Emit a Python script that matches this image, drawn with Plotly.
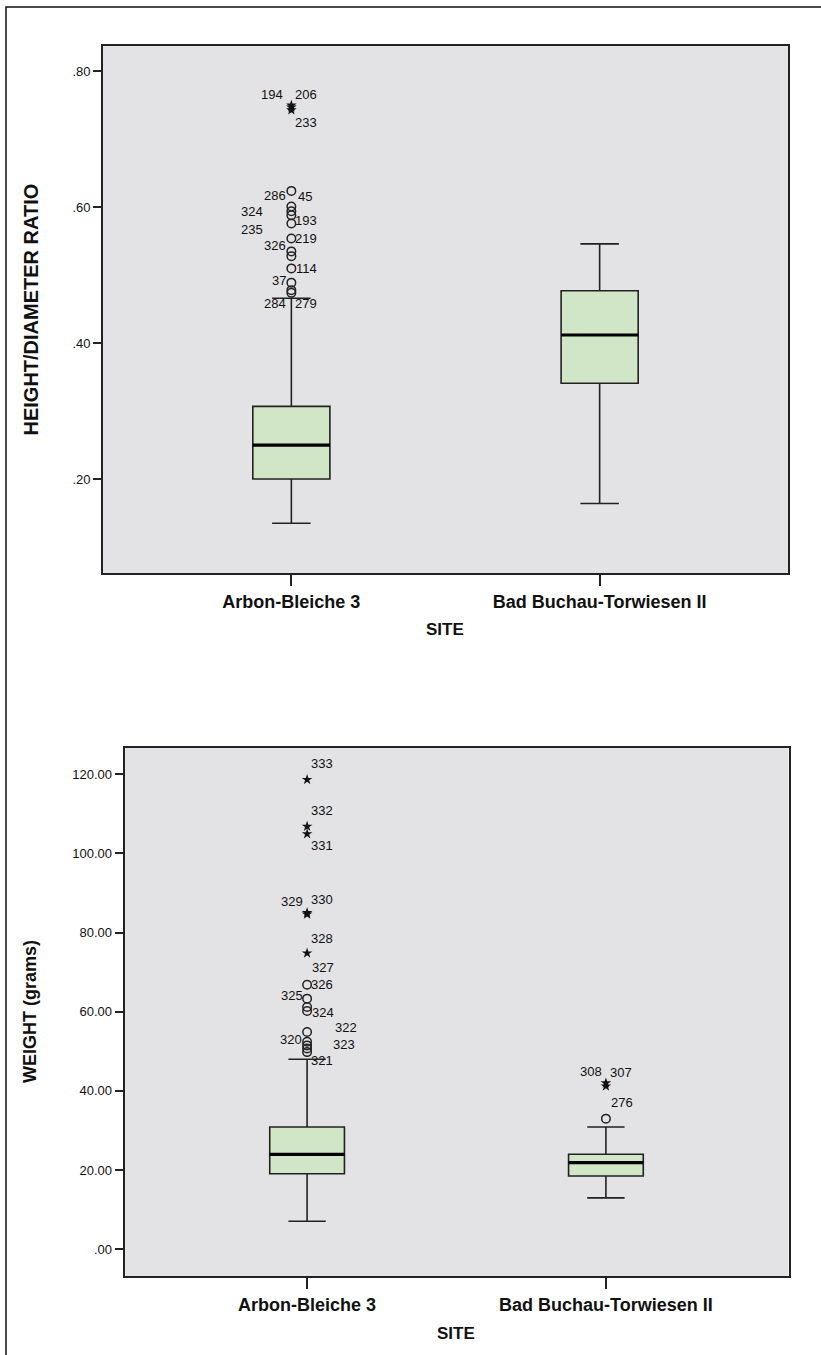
import plotly.graph_objects as go

# ---------------------------------------------------------------- data
sites = ["Arbon-Bleiche 3", "Bad Buchau-Torwiesen II"]

# Height/diameter ratio: box summaries per site
hd_q1 = [0.200, 0.341]
hd_median = [0.250, 0.412]
hd_q3 = [0.307, 0.477]
hd_whisker_low = [0.135, 0.164]
hd_whisker_high = [0.466, 0.546]
hd_outliers = [[0.624, 0.601, 0.594, 0.588, 0.576, 0.554, 0.535, 0.528,
                0.510, 0.489, 0.478, 0.474], []]
hd_extremes = [[0.750, 0.747, 0.743], []]
# case labels: (site index, case id, value)
hd_case_labels = [
    (0, "194", 0.750), (0, "206", 0.750), (0, "233", 0.743),
    (0, "286", 0.624), (0, "45", 0.624), (0, "324", 0.594),
    (0, "193", 0.576), (0, "235", 0.576), (0, "219", 0.554),
    (0, "326", 0.535), (0, "114", 0.510), (0, "37", 0.489),
    (0, "284", 0.474), (0, "279", 0.474),
]

# Weight (grams): box summaries per site
wt_q1 = [19.1, 18.5]
wt_median = [24.0, 21.9]
wt_q3 = [30.9, 24.0]
wt_whisker_low = [7.1, 13.0]
wt_whisker_high = [48.0, 30.9]
wt_outliers = [[66.8, 63.3, 61.2, 60.2, 54.9, 52.4, 51.5, 50.7, 49.8], [33.0]]
wt_extremes = [[118.6, 106.8, 104.9, 85.0, 84.6, 74.8], [42.0, 41.2]]
wt_case_labels = [
    (0, "333", 118.6), (0, "332", 106.8), (0, "331", 104.9),
    (0, "329", 84.6), (0, "330", 84.6), (0, "328", 74.8),
    (0, "327", 66.8), (0, "326", 66.8), (0, "325", 63.3),
    (0, "324", 60.2), (0, "322", 54.9), (0, "320", 52.4),
    (0, "323", 51.5), (0, "321", 49.8),
    (1, "308", 42.0), (1, "307", 42.0), (1, "276", 33.0),
]

hd_ticks = [0.2, 0.4, 0.6, 0.8]
hd_ticktext = [".20", ".40", ".60", ".80"]
wt_ticks = [0, 20, 40, 60, 80, 100, 120]
wt_ticktext = [".00", "20.00", "40.00", "60.00", "80.00", "100.00", "120.00"]

# ---------------------------------------------------------------- styling
# label offsets in pixels (right, up), same order as the case labels
hd_label_shift = [(-19, 11), (15, 11), (15, -12), (-16, -5), (14, -6),
                  (-39, 0), (15, 3), (-39, -6), (15, 0), (-16, 6),
                  (15, 0), (-12, 2), (-16, -11), (15, -11)]
wt_label_shift = [(15, 16), (15, 16), (15, -12), (-15, 13), (15, 15),
                  (15, 15), (16, 17), (15, 0), (-15, 3), (16, -2),
                  (39, 4), (-16, 2), (37, 1), (15, -8),
                  (-15, 12), (15, 11), (16, 16)]

W, H = 821, 1355
FONT = "Liberation Sans, Arial, sans-serif"
INK = "#222222"
BOX_FILL = "#d0e6c6"
PLOT_BG = "#e3e3e5"
BOX_W = 0.25


def px_x(p):
    return p / W


def px_y(p):
    return 1 - p / H


fig = go.Figure()


def add_panel(xa, ya, q1, med, q3, lo, hi, outl, extr, labels, shifts):
    xs = list(range(len(sites)))
    fig.add_trace(go.Box(
        x=xs, q1=q1, median=med, q3=q3, lowerfence=lo, upperfence=hi,
        width=BOX_W, whiskerwidth=0.5, fillcolor=BOX_FILL,
        line=dict(color=INK, width=1.6), boxpoints=False,
        hoverinfo="skip", showlegend=False, xaxis=xa, yaxis=ya,
    ))
    # heavier median bars
    for i, m in enumerate(med):
        fig.add_trace(go.Scatter(
            x=[i - BOX_W / 2, i + BOX_W / 2], y=[m, m], mode="lines",
            line=dict(color="#000000", width=3.2), hoverinfo="skip",
            showlegend=False, xaxis=xa, yaxis=ya,
        ))
    for i, vals in enumerate(outl):
        if vals:
            fig.add_trace(go.Scatter(
                x=[i] * len(vals), y=vals, mode="markers",
                marker=dict(symbol="circle-open", size=8.5,
                            line=dict(color=INK, width=1.5), color=INK),
                hoverinfo="skip", showlegend=False, xaxis=xa, yaxis=ya,
            ))
    for i, vals in enumerate(extr):
        if vals:
            fig.add_trace(go.Scatter(
                x=[i] * len(vals), y=vals, mode="markers",
                marker=dict(symbol="star", size=8, color="#111111",
                            line=dict(width=0)),
                hoverinfo="skip", showlegend=False, xaxis=xa, yaxis=ya,
            ))
    for (i, txt, v), (dx, dy) in zip(labels, shifts):
        fig.add_annotation(
            x=i, y=v, xref=xa, yref=ya, text=txt, showarrow=False,
            xshift=dx, yshift=dy, font=dict(family=FONT, size=13, color="#111111"),
        )


add_panel("x", "y", hd_q1, hd_median, hd_q3, hd_whisker_low, hd_whisker_high,
          hd_outliers, hd_extremes, hd_case_labels, hd_label_shift)
add_panel("x2", "y2", wt_q1, wt_median, wt_q3, wt_whisker_low, wt_whisker_high,
          wt_outliers, wt_extremes, wt_case_labels, wt_label_shift)

xcommon = dict(
    range=[-0.611, 1.611], tickvals=[0, 1], ticktext=sites,
    ticks="outside", ticklen=11, tickwidth=1.6, tickcolor=INK,
    showline=True, mirror=True, linecolor=INK, linewidth=1.8,
    showgrid=False, zeroline=False,
    tickfont=dict(family=FONT, size=18, color="#111111", weight="bold"),
)
ycommon = dict(
    ticks="outside", ticklen=8, tickwidth=1.6, tickcolor=INK,
    showline=True, mirror=True, linecolor=INK, linewidth=1.8,
    showgrid=False, zeroline=False,
    tickfont=dict(family=FONT, size=13, color="#111111"),
)

P1 = dict(left=103, right=788, top=46, bottom=573)
P2 = dict(left=124.5, right=788.5, top=748, bottom=1276)

fig.update_layout(
    width=W, height=H, margin=dict(l=0, r=0, t=0, b=0),
    paper_bgcolor="white", plot_bgcolor=PLOT_BG, showlegend=False,
    xaxis=dict(domain=[px_x(P1["left"]), px_x(P1["right"])], anchor="y", **xcommon),
    yaxis=dict(domain=[px_y(P1["bottom"]), px_y(P1["top"])], anchor="x",
               range=[0.0618, 0.8372], tickvals=hd_ticks, ticktext=hd_ticktext,
               **ycommon),
    xaxis2=dict(domain=[px_x(P2["left"]), px_x(P2["right"])], anchor="y2", **xcommon),
    yaxis2=dict(domain=[px_y(P2["bottom"]), px_y(P2["top"])], anchor="x2",
                range=[-6.74, 126.6], tickvals=wt_ticks, ticktext=wt_ticktext,
                **ycommon),
)

title_font = dict(family=FONT, size=17, color="#111111", weight="bold")
for panel, ytitle, ysize in ((P1, "HEIGHT/DIAMETER RATIO", 20), (P2, "WEIGHT (grams)", 18)):
    fig.add_annotation(
        x=px_x((panel["left"] + panel["right"]) / 2), y=px_y(panel["bottom"] + 57),
        xref="paper", yref="paper", text="SITE", showarrow=False,
        font=title_font, xanchor="center", yanchor="middle",
    )
    fig.add_annotation(
        x=px_x(30), y=px_y((panel["top"] + panel["bottom"]) / 2),
        xref="paper", yref="paper", text=ytitle, showarrow=False, textangle=-90,
        font=dict(family=FONT, size=ysize, color="#111111", weight="bold"),
        xanchor="center", yanchor="middle",
    )

# outer frame of the figure
fig.add_shape(type="rect", xref="paper", yref="paper",
              x0=px_x(6), x1=px_x(W + 10), y0=px_y(H + 10), y1=px_y(7),
              line=dict(color="#111111", width=1.5), fillcolor="rgba(0,0,0,0)")

fig.write_html("out.html")
